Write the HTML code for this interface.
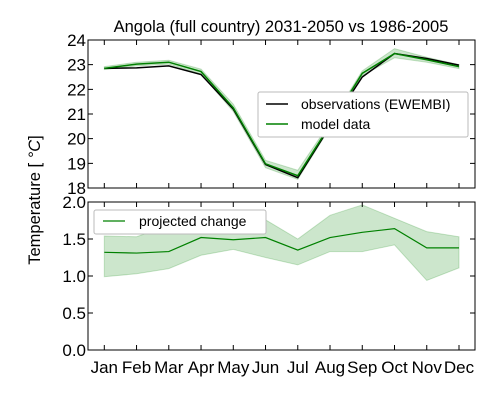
<!DOCTYPE html>
<html><head><meta charset="utf-8"><style>
body{margin:0;background:#fff}
svg{font-family:"Liberation Sans","DejaVu Sans",sans-serif}
</style></head><body>
<svg id="chart" width="500" height="400">
<text x="281" y="32" font-size="16.5" text-anchor="middle">Angola (full country) 2031-2050 vs 1986-2005</text>
<text transform="translate(40,200) rotate(-90)" font-size="16.5" text-anchor="middle">Temperature [ <tspan font-style="italic">°C</tspan>]</text>
<g id="top"></g><g id="bot"></g>
</svg>
<script>
const months=["Jan","Feb","Mar","Apr","May","Jun","Jul","Aug","Sep","Oct","Nov","Dec"];
const obs=[22.85,22.87,22.95,22.6,21.2,18.95,18.42,20.5,22.5,23.45,23.25,22.98];
const model=[22.85,23.02,23.1,22.72,21.25,18.98,18.5,20.55,22.65,23.45,23.2,22.92];
const modelHi=[22.92,23.1,23.18,22.82,21.4,19.12,18.72,20.65,22.75,23.65,23.3,23.0];
const modelLo=[22.8,22.95,23.02,22.62,21.1,18.82,18.35,20.45,22.55,23.28,23.1,22.84];
const change=[1.32,1.31,1.33,1.52,1.49,1.52,1.35,1.52,1.59,1.64,1.38,1.38];
const changeHi=[1.54,1.53,1.68,1.67,1.59,1.76,1.50,1.82,1.96,1.78,1.60,1.53];
const changeLo=[0.99,1.03,1.10,1.28,1.36,1.25,1.15,1.33,1.33,1.42,0.94,1.11];
const topTicks=[18,19,20,21,22,23,24];
const botTicks=["0.0","0.5","1.0","1.5","2.0"];
const NS="http://www.w3.org/2000/svg";
const L=88,R=475;
const x=i=>104.3+i*(459-104.3)/11;
const yT=v=>188-(v-18)*(148/6);
const yB=v=>350-v*(148/2);
function mk(p,t,a){const e=document.createElementNS(NS,t);for(const k in a)e.setAttribute(k,a[k]);p.appendChild(e);return e;}
function line(arr,fy){return arr.map((v,i)=>(i?"L":"M")+x(i)+","+fy(v)).join("");}
function band(hi,lo,fy){let d=hi.map((v,i)=>(i?"L":"M")+x(i)+","+fy(v)).join("");for(let i=lo.length-1;i>=0;i--)d+="L"+x(i)+","+fy(lo[i]);return d+"Z";}
function axes(g,top,bot,ticks,fy,showX){
  ticks.forEach(t=>{const y=fy(parseFloat(t));
    const tk=mk(g,"path",{d:`M${L},${y}h5M${R},${y}h-5`,stroke:"#000"});
    
    const tx=mk(g,"text",{x:L-2,y:y+6,"font-size":17,"text-anchor":"end"});tx.textContent=t;
    });
  months.forEach((m,i)=>{const tk=mk(g,"path",{d:`M${x(i)},${bot}v-5M${x(i)},${top}v5`,stroke:"#000"});
    
    if(showX){const tx=mk(g,"text",{x:x(i),y:bot+23,"font-size":17,"text-anchor":"middle"});tx.textContent=m;
      }});
  const f=mk(g,"rect",{x:L,y:top,width:R-L,height:bot-top,fill:"none",stroke:"#000"});
  
}
const gt=document.getElementById("top"),gb=document.getElementById("bot");
let e=mk(gt,"path",{d:band(modelHi,modelLo,yT),fill:"#008000","fill-opacity":0.2,stroke:"#008000","stroke-opacity":0.2});

e=mk(gt,"path",{d:line(obs,yT),fill:"none",stroke:"#000","stroke-width":1.5});

e=mk(gt,"path",{d:line(model,yT),fill:"none",stroke:"#008000","stroke-width":1.5});

axes(gt,40,188,topTicks.map(String),yT,false);
e=mk(gb,"path",{d:band(changeHi,changeLo,yB),fill:"#008000","fill-opacity":0.2,stroke:"#008000","stroke-opacity":0.2});

e=mk(gb,"path",{d:line(change,yB),fill:"none",stroke:"#008000","stroke-width":1.2});

axes(gb,202,350,botTicks,yB,true);
let lg=mk(gt,"g",{});

mk(lg,"rect",{x:258,y:92,width:210,height:45,rx:2,fill:"#fff",stroke:"#bbb"});
mk(lg,"path",{d:"M266,104h22",stroke:"#000","stroke-width":1.5});
let t=mk(lg,"text",{x:301,y:109,"font-size":14});t.textContent="observations (EWEMBI)";

mk(lg,"path",{d:"M266,124h22",stroke:"#008000","stroke-width":1.5});
t=mk(lg,"text",{x:301,y:129,"font-size":14});t.textContent="model data";

lg=mk(gb,"g",{});

mk(lg,"rect",{x:94,y:210,width:172,height:24,rx:2,fill:"#fff",stroke:"#bbb"});
mk(lg,"path",{d:"M103,221h22",stroke:"#008000","stroke-width":1.2});
t=mk(lg,"text",{x:139,y:226,"font-size":14});t.textContent="projected change";

</script>
</body></html>
